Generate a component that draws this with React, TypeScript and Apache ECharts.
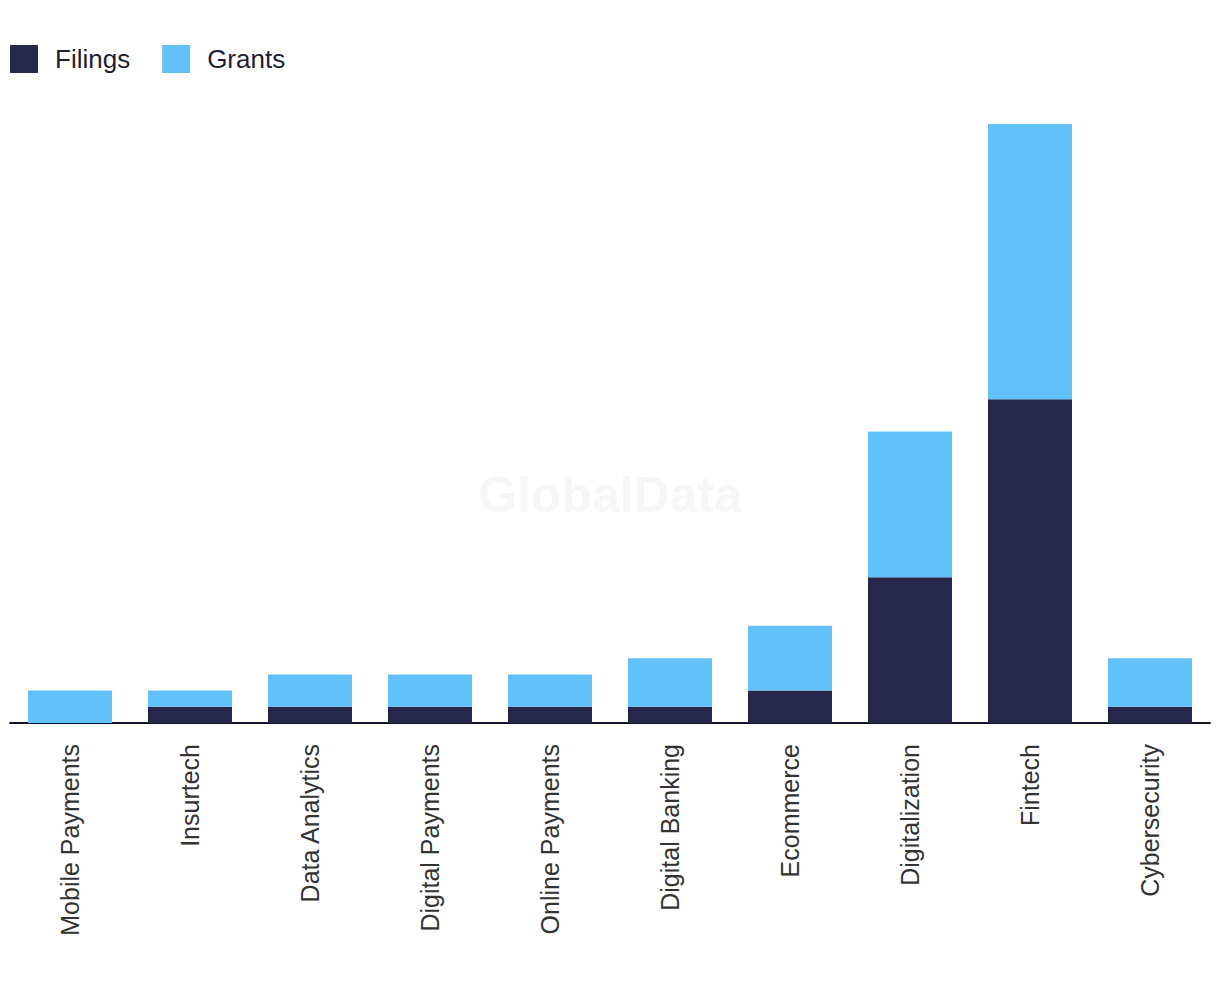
import React, { useEffect, useRef } from "react";
import * as echarts from "echarts";

const categories = [
  "Mobile Payments",
  "Insurtech",
  "Data Analytics",
  "Digital Payments",
  "Online Payments",
  "Digital Banking",
  "Ecommerce",
  "Digitalization",
  "Fintech",
  "Cybersecurity",
];
const filings = [0, 1, 1, 1, 1, 1, 2, 9, 20, 1];
const grants = [2, 1, 2, 2, 2, 3, 4, 9, 17, 3];

export default function App() {
  const ref = useRef<HTMLDivElement>(null);
  useEffect(() => {
    if (!ref.current) return;
    const chart = echarts.init(ref.current, null, { renderer: "svg" });
    chart.setOption({
      animation: false,
      textStyle: { fontFamily: "Liberation Sans, Arial, sans-serif" },
      graphic: [
        {
          type: "text",
          left: "center",
          top: 462,
          z: 0,
          style: {
            text: "GlobalData",
            font: "bold 50px Liberation Sans, Arial, sans-serif",
            fill: "#f6f6f6",
          },
        },
      ],
      legend: {
        left: 2,
        top: 37,
        padding: 0,
        itemWidth: 28,
        itemHeight: 28,
        itemGap: 32,
        icon: "rect",
        textStyle: {
          fontSize: 26,
          color: "#1e1e33",
          padding: [0, 0, 0, 12],
        },
        data: ["Filings", "Grants"],
      },
      grid: { left: 2, right: 2, top: 116, bottom: 257, containLabel: false },
      xAxis: {
        type: "category",
        data: categories,
        axisLine: { lineStyle: { color: "#14142b", width: 2 } },
        axisTick: { show: false },
        axisLabel: {
          rotate: 90,
          margin: 21,
          fontSize: 25,
          color: "#333333",
          interval: 0,
        },
      },
      yAxis: {
        type: "value",
        min: 0,
        max: 37,
        show: false,
        splitLine: { show: false },
      },
      series: [
        {
          name: "Filings",
          type: "bar",
          stack: "total",
          data: filings,
          barWidth: "70%",
          itemStyle: { color: "#27284b" },
        },
        {
          name: "Grants",
          type: "bar",
          stack: "total",
          data: grants,
          barWidth: "70%",
          itemStyle: { color: "#62c1f9" },
        },
      ],
    });
    return () => chart.dispose();
  }, []);
  return <div ref={ref} style={{ width: 1204, height: 972 }} />;
}
